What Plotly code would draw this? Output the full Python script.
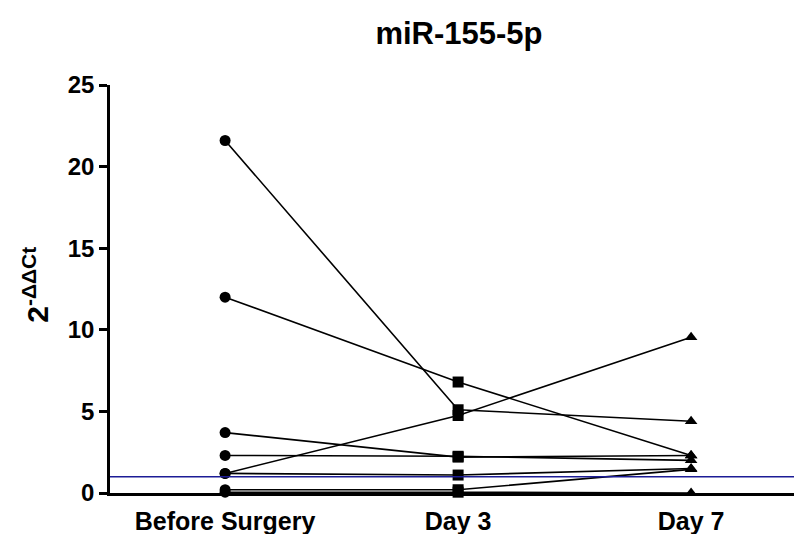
import plotly.graph_objects as go

# Data
categories = ["Before Surgery", "Day 3", "Day 7"]
subject_a = [21.6, 5.1, 4.4]
subject_b = [12.0, 6.8, 2.3]
subject_c = [3.7, 2.2, 2.3]
subject_d = [2.3, 2.25, 2.0]
subject_e = [1.2, 4.75, 9.55]
subject_f = [1.2, 1.1, 1.5]
subject_g = [0.2, 0.2, 1.45]
subject_h = [0.05, 0.05, 0.0]
subjects = [subject_a, subject_b, subject_c, subject_d,
            subject_e, subject_f, subject_g, subject_h]
symbols = ["circle", "square", "triangle-up"]
reference_level = 1.0
y_ticks = [0, 5, 10, 15, 20, 25]

FONT = "Arial, 'Liberation Sans', sans-serif"

# page has an 8px body margin, so the figure is sized to fit the window
W, H = 794, 526

fig = go.Figure()
xpos = list(range(len(categories)))
for vals in subjects:
    fig.add_trace(go.Scatter(
        x=xpos, y=vals, mode="lines+markers",
        line=dict(color="black", width=1.6),
        marker=dict(symbol=symbols, size=11, color="black"),
        cliponaxis=False, showlegend=False, hoverinfo="skip"))

fig.add_shape(type="line", xref="paper", x0=0, x1=1, yref="y",
              y0=reference_level, y1=reference_level,
              line=dict(color="#1c1c96", width=1.6), layer="above")

fig.add_annotation(text="<b>2<sup>-ΔΔCt</sup></b>", xref="paper", yref="paper",
                   x=-0.108, y=0.511, xanchor="center", yanchor="middle",
                   textangle=-90, showarrow=False,
                   font=dict(family=FONT, size=30, color="black"))

fig.update_layout(
    template="none",
    width=W, height=H,
    margin=dict(l=102, r=0, t=77, b=41),
    plot_bgcolor="white", paper_bgcolor="white",
    title=dict(text="<b>miR-155-5p</b>", x=451/W, xanchor="center",
               y=1 - 25/H, yanchor="middle",
               font=dict(family=FONT, size=31, color="black")),
    xaxis=dict(range=[-0.494, 2.476], tickmode="array", tickvals=xpos,
               ticktext=["<b>%s</b>" % c for c in categories],
               showline=True, linecolor="black", automargin=False,
               linewidth=2.5, ticks="", showgrid=False, zeroline=False,
               ticklabelstandoff=4,
               tickfont=dict(family=FONT, size=25, color="black")),
    yaxis=dict(range=[0, 25], tickmode="array", tickvals=y_ticks,
               ticktext=["<b>%d</b>" % v for v in y_ticks],
               showline=True, linecolor="black", linewidth=2.5, automargin=False,
               ticks="outside", ticklen=8, tickwidth=2.5, tickcolor="black",
               showgrid=False, zeroline=False,
               tickfont=dict(family=FONT, size=24, color="black")),
)

fig.write_html("out.html")
